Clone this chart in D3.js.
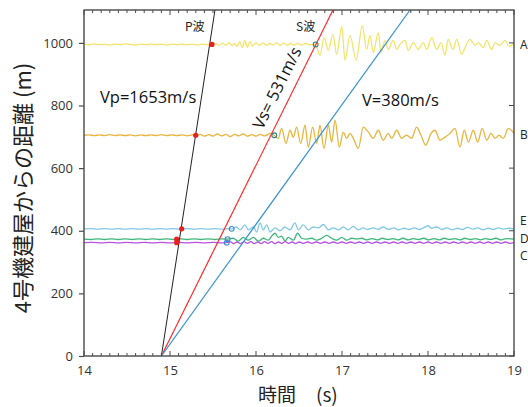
<!DOCTYPE html>
<html><head><meta charset="utf-8">
<script src="https://cdn.jsdelivr.net/npm/d3@7"></script>
<style>body{margin:0;background:#fff}svg{display:block}</style>
</head><body>
<script>
// ---- data ----
const xTicks = [14, 15, 16, 17, 18, 19];
const yTicks = [0, 200, 400, 600, 800, 1000];
const stations = ["A", "B", "E", "D", "C"];
const baselines = [995, 705, 406, 373, 362];           // m
const pArrival = [15.488, 15.299, 15.136, 15.078, 15.078]; // s
const sArrival = [16.694, 16.213, 15.717, 15.670, 15.660]; // s
// wave-front lines: start time at 0 m, time at 1105 m
const waveStart = [14.9, 14.9, 14.9];
const waveTop = [15.523, 16.895, 17.791];
const waveLabels = ["Vp=1653m/s", "Vs= 531m/s", "V=380m/s"];

// seismogram traces: [time s, offset m]
const traceA = [[14.00,1],[14.06,-1],[14.12,2],[14.18,-1],[14.24,1],[14.30,-2],[14.36,1],[14.42,-1],[14.48,2],[14.54,0],[14.60,-2],[14.66,1],[14.72,-1],[14.78,2],[14.84,-1],[14.90,1],[14.96,-2],[15.02,1],[15.08,-1],[15.14,2],[15.20,-1],[15.26,1],[15.32,-2],[15.38,1],[15.44,-1],[15.49,0],
 [15.53,3],[15.57,-3],[15.61,4],[15.65,-2],[15.69,5],[15.72,-4],[15.75,3],[15.78,-6],[15.81,9],[15.84,-10],[15.87,12],[15.90,-9],[15.93,10],[15.96,-5],[16.00,5],[16.04,-3],[16.08,4],[16.12,-3],[16.16,3],[16.20,-2],[16.24,6],[16.28,-4],[16.32,5],[16.36,-3],[16.40,3],[16.44,-2],[16.48,3],[16.53,-2],[16.58,3],[16.63,-1],[16.69,0],
 [16.744,-35],[16.791,22],[16.841,-19],[16.895,32],[16.938,-32],[16.997,58],[17.035,-50],[17.093,29],[17.165,-50],[17.236,60],[17.287,-16],[17.326,29],[17.364,-26],[17.422,38],[17.453,-26],[17.50,13],[17.538,-16],[17.597,13],[17.636,-16],[17.674,0],[17.733,13],[17.771,-19],[17.829,6],[17.887,-16],[17.945,6],[17.985,-16],[18.043,22],[18.10,-16],[18.151,6],[18.198,-35],[18.233,16],[18.291,-16],[18.334,16],[18.392,-32],[18.43,-10],[18.488,16],[18.547,-3],[18.585,6],[18.643,-10],[18.683,13],[18.741,-16],[18.779,6],[18.837,-3],[18.895,13],[18.942,-6],[19.00,3]];
const traceB = [[14.00,0],[14.06,1],[14.12,-1],[14.18,1],[14.24,-1],[14.30,2],[14.36,-1],[14.42,1],[14.48,-1],[14.54,1],[14.60,-2],[14.66,1],[14.72,-1],[14.78,1],[14.84,-1],[14.90,2],[14.96,-1],[15.02,1],[15.08,-1],[15.14,1],[15.20,-2],[15.26,1],[15.30,0],
 [15.35,3],[15.40,-3],[15.45,2],[15.50,-3],[15.55,4],[15.60,-2],[15.65,3],[15.70,-4],[15.75,3],[15.80,-2],[15.85,4],[15.90,-3],[15.95,2],[16.00,-3],[16.05,3],[16.10,-2],[16.17,6],[16.21,0],
 [16.259,-10],[16.298,22],[16.349,-26],[16.395,16],[16.434,-6],[16.473,26],[16.52,-26],[16.57,32],[16.608,-38],[16.659,26],[16.706,-26],[16.744,32],[16.791,-42],[16.841,32],[16.88,-22],[16.919,48],[16.969,-38],[17.015,10],[17.054,-10],[17.093,6],[17.131,-10],[17.19,-42],[17.247,26],[17.306,10],[17.364,-10],[17.422,16],[17.48,-16],[17.538,6],[17.578,-10],[17.636,16],[17.693,-10],[17.751,0],[17.809,-10],[17.867,26],[17.919,0],[17.973,-32],[18.035,6],[18.081,16],[18.14,-16],[18.198,-6],[18.256,6],[18.314,22],[18.372,-38],[18.422,16],[18.469,-22],[18.527,16],[18.577,-22],[18.631,22],[18.683,-16],[18.733,6],[18.779,-10],[18.826,0],[18.876,-10],[18.934,22],[19.00,6]];
const traceE = [[14.00,0],[14.08,1],[14.16,-1],[14.24,1],[14.32,-1],[14.40,1],[14.48,-1],[14.56,1],[14.64,-1],[14.72,1],[14.80,-1],[14.88,1],[14.96,-1],[15.04,1],[15.12,-1],[15.20,1],[15.28,-1],[15.36,1],[15.44,-1],[15.52,1],[15.60,-1],[15.68,1],[15.72,0],
 [15.774,6],[15.814,-3],[15.872,13],[15.91,-3],[15.969,6],[16.008,-10],[16.047,19],[16.085,-3],[16.124,13],[16.163,-10],[16.221,3],[16.279,-6],[16.337,6],[16.395,-3],[16.453,19],[16.492,-3],[16.55,13],[16.608,-3],[16.666,6],[16.724,3],[16.783,14],[16.841,-3],[16.899,3],[16.957,-3],[17.015,6],[17.073,-3],[17.131,8],[17.19,-3],[17.247,3],
 [17.30,-2],[17.36,3],[17.42,-1],[17.48,6],[17.54,-2],[17.60,3],[17.66,-3],[17.72,2],[17.78,-2],[17.84,3],[17.90,-2],[17.96,5],[18.00,10],[18.04,2],[18.10,6],[18.16,-2],[18.22,3],[18.28,-3],[18.34,2],[18.40,-2],[18.46,5],[18.52,-1],[18.58,3],[18.64,-3],[18.70,2],[18.76,-2],[18.82,3],[18.88,-1],[18.94,2],[19.00,0]];
const traceD = [[14.00,0],[14.08,-1],[14.16,1],[14.24,-1],[14.32,1],[14.40,-1],[14.48,1],[14.56,-1],[14.64,1],[14.72,-1],[14.80,1],[14.88,-1],[14.96,1],[15.04,-1],[15.12,1],[15.20,-1],[15.28,1],[15.36,-1],[15.44,1],[15.52,-1],[15.60,1],[15.67,0],
 [15.736,3],[15.794,-6],[15.852,6],[15.91,-3],[15.969,6],[16.027,-6],[16.085,3],[16.143,-3],[16.183,10],[16.221,19],[16.259,6],[16.298,10],[16.337,-6],[16.376,6],[16.434,-3],[16.484,19],[16.531,3],[16.589,0],[16.647,3],[16.706,-3],[16.764,3],[16.821,12],[16.88,3],[16.938,-3],[16.997,6],[17.054,-3],[17.113,3],[17.171,0],[17.229,3],
 [17.29,-2],[17.35,2],[17.41,-2],[17.47,3],[17.53,-1],[17.59,2],[17.65,-2],[17.71,3],[17.77,-2],[17.83,2],[17.89,-1],[17.95,3],[18.01,-2],[18.07,2],[18.13,-2],[18.19,3],[18.25,-1],[18.31,2],[18.37,-2],[18.43,3],[18.49,-1],[18.55,2],[18.61,-2],[18.67,2],[18.73,-1],[18.79,3],[18.85,-2],[18.91,2],[19.00,0]];
const traceC = [[14.00,0],[14.10,1],[14.20,-1],[14.30,1],[14.40,-1],[14.50,1],[14.60,-1],[14.70,1],[14.80,-1],[14.90,1],[15.00,-1],[15.10,1],[15.20,-1],[15.30,1],[15.40,-1],[15.50,1],[15.60,-1],[15.66,0],
 [15.70,3],[15.74,-3],[15.78,2],[15.82,-3],[15.86,3],[15.90,-2],[15.94,3],[15.98,-3],[16.02,2],[16.06,-3],[16.10,3],[16.14,-2],[16.18,3],[16.22,-3],[16.26,2],[16.30,-2],[16.34,3],[16.38,-2],[16.42,2],[16.46,-3],[16.50,2],[16.55,-2],[16.60,2],[16.65,-2],[16.70,2],[16.75,-2],[16.80,2],[16.85,-2],[16.90,2],[16.95,-2],[17.00,2],[17.05,-2],[17.10,2],[17.15,-2],[17.20,2],[17.25,-2],[17.30,2],[17.35,-2],[17.40,2],[17.45,-2],[17.50,2],[17.55,-2],[17.60,2],[17.65,-2],[17.70,2],[17.75,-2],[17.80,2],[17.85,-2],[17.90,2],[17.95,-2],[18.00,2],[18.05,-2],[18.10,2],[18.15,-2],[18.20,2],[18.25,-2],[18.30,2],[18.35,-2],[18.40,2],[18.45,-2],[18.50,2],[18.55,-2],[18.60,2],[18.65,-2],[18.70,2],[18.75,-2],[18.80,2],[18.85,-2],[18.90,2],[18.95,-2],[19.00,0]];
const traces = [traceA, traceB, traceE, traceD, traceC];

// ---- style ----
const W = 528, H = 407;
const m = {left: 84, right: 14, top: 10, bottom: 51};
const traceColors = ["#f3e46c", "#e9b53e", "#82c9e6", "#3db57c", "#b553e0"];
const waveColors = ["#222", "#ff2b2b", "#3a93d6"];
const sMarkColors = ["#2e7f86", "#2e7f86", "#3c86c8", "#3c86c8", "#3c86c8"];
const font = "'Open Sans','Noto Sans',sans-serif";
const jfont = "'Noto Sans CJK JP','Noto Sans',sans-serif";

const svg = d3.select("body").append("svg").attr("width", W).attr("height", H);
const x = d3.scaleLinear().domain([14, 19]).range([m.left, W - m.right]);
const y = d3.scaleLinear().domain([0, 1105]).range([H - m.bottom, m.top]);

svg.append("clipPath").attr("id", "c").append("rect")
  .attr("x", x(14)).attr("y", y(1105)).attr("width", x(19) - x(14)).attr("height", y(0) - y(1105));
const plot = svg.append("g").attr("clip-path", "url(#c)");

// traces
const line = d3.line().x(d => x(d[0])).y(d => d[1]).curve(d3.curveMonotoneX);
traces.forEach((tr, i) => {
  plot.append("path")
    .attr("d", line(tr.map(p => [p[0], y(baselines[i] + p[1])])))
    .attr("fill", "none").attr("stroke", traceColors[i]).attr("stroke-width", 1.3);
});

// wave-front lines
waveStart.forEach((t0, i) => {
  plot.append("line")
    .attr("x1", x(t0)).attr("y1", y(0)).attr("x2", x(waveTop[i])).attr("y2", y(1105))
    .attr("stroke", waveColors[i]).attr("stroke-width", i === 0 ? 1 : 1.2);
});

// arrivals
stations.forEach((s, i) => {
  plot.append("circle").attr("cx", x(pArrival[i])).attr("cy", y(baselines[i]))
    .attr("r", 2.6).attr("fill", "#e8211d");
  plot.append("circle").attr("cx", x(sArrival[i])).attr("cy", y(baselines[i]))
    .attr("r", 2.4).attr("fill", "none").attr("stroke", sMarkColors[i]).attr("stroke-width", 1.1);
});

// axes
const axCol = "#4a4a4a";
const xMinor = d3.range(140, 191).map(v => v / 10);
const gb = svg.append("g").attr("transform", `translate(0,${y(0)})`)
  .call(d3.axisBottom(x).tickValues(xTicks).tickSize(0).tickPadding(10).tickFormat(d3.format("d")));
gb.select(".domain").remove();
gb.selectAll("text").attr("font-family", font).attr("font-size", 13).attr("fill", "#333");
const gl = svg.append("g").attr("transform", `translate(${x(14)},0)`)
  .call(d3.axisLeft(y).tickValues(yTicks).tickSize(5).tickPadding(6).tickFormat(d3.format("d")));
gl.select(".domain").remove();
gl.selectAll("line").attr("stroke", axCol).attr("stroke-width", 1.2);
gl.selectAll("text").attr("font-family", font).attr("font-size", 13).attr("fill", "#333");

// minor ticks bottom/top, right ticks
const tk = svg.append("g").attr("stroke", axCol).attr("stroke-width", 1);
xMinor.forEach(v => {
  const major = Math.abs(v - Math.round(v)) < 1e-6;
  const L = major ? 5 : 3;
  tk.append("line").attr("x1", x(v)).attr("x2", x(v)).attr("y1", y(0)).attr("y2", y(0) - L);
  tk.append("line").attr("x1", x(v)).attr("x2", x(v)).attr("y1", y(1105)).attr("y2", y(1105) + L);
});
yTicks.forEach(v => {
  tk.append("line").attr("x1", x(19)).attr("x2", x(19) - 5).attr("y1", y(v)).attr("y2", y(v));
});
svg.append("rect").attr("x", x(14)).attr("y", y(1105)).attr("width", x(19) - x(14)).attr("height", y(0) - y(1105))
  .attr("fill", "none").attr("stroke", axCol).attr("stroke-width", 1.4);

// station labels
stations.forEach((s, i) => {
  const yy = [45, 135, 221, 239, 256][i];
  svg.append("text").attr("x", x(19) + 6).attr("y", yy).attr("dy", "0.35em")
    .attr("font-family", font).attr("font-size", 12).attr("fill", "#222").text(s);
});

// annotations
svg.append("text").attr("x", x(15.174)).attr("y", y(1038)).attr("font-family", jfont)
  .attr("font-size", 12).attr("fill", "#222").text("P波");
svg.append("text").attr("x", x(16.465)).attr("y", y(1038)).attr("font-family", jfont)
  .attr("font-size", 12).attr("fill", "#222").text("S波");
svg.append("text").attr("x", x(14.186)).attr("y", y(808)).attr("font-family", font)
  .attr("font-size", 16.5).attr("fill", "#111").text(waveLabels[0]);
const ang = Math.atan2(y(1105) - y(0), x(waveTop[1]) - x(waveStart[1])) * 180 / Math.PI;
svg.append("text").attr("transform", `translate(${x(16.244)},${y(856)}) rotate(${ang})`)
  .attr("text-anchor", "middle").attr("dy", "0.35em").attr("font-family", font)
  .attr("font-size", 16.5).attr("fill", "#111").text(waveLabels[1]);
svg.append("text").attr("x", x(17.233)).attr("y", y(798)).attr("font-family", font)
  .attr("font-size", 16.5).attr("fill", "#111").text(waveLabels[2]);

// axis titles
svg.append("text").attr("transform", `translate(21,${(y(0) + y(1105)) / 2 + 5}) rotate(-90)`)
  .attr("text-anchor", "middle").attr("dominant-baseline", "central")
  .attr("font-family", jfont).attr("font-size", 22).attr("fill", "#222").text("4号機建屋からの距離 (m)");
svg.append("text").attr("x", 258).attr("y", 402)
  .attr("font-family", jfont).attr("font-size", 19).attr("fill", "#222").text("時間");
svg.append("text").attr("x", 316).attr("y", 402)
  .attr("font-family", jfont).attr("font-size", 19).attr("fill", "#222").text("(s)");
</script>
</body></html>
